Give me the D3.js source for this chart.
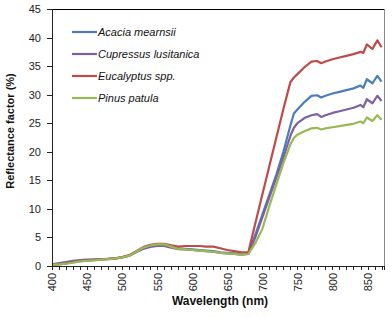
<!DOCTYPE html>
<html>
<head>
<meta charset="utf-8">
<script src="https://cdn.jsdelivr.net/npm/d3@7"></script>
<style>
  body { margin: 0; background: #fff; }
  svg { display: block; font-family: "Liberation Sans", Arial, sans-serif; }
</style>
</head>
<body>
<svg id="chart"></svg>
<script>
// wavelengths (nm) shared by all series
const wavelengths = [400, 410, 420, 430, 440, 450, 460, 470, 480, 490, 500, 510, 520, 530, 540, 550, 560, 570, 580, 590,
    600, 610, 620, 630, 640, 650, 660, 670, 680, 690, 700, 710, 720, 730, 740, 745, 750, 760, 770, 778, 784, 790,
    800, 810, 820, 830, 840, 844, 849, 857, 864, 870];

const seriesNames = ["Acacia mearnsii", "Cupressus lusitanica", "Eucalyptus spp.", "Pinus patula"];
const seriesColors = ["#4a7ebb", "#7d60a0", "#be4b48", "#98b954"];

const acacia = [0.25, 0.35, 0.5, 0.7, 0.9, 1.0, 1.05, 1.15, 1.2, 1.3, 1.5, 1.8, 2.5, 3.1, 3.5, 3.7, 3.7, 3.4, 3.1, 3.0,
    2.9, 2.8, 2.7, 2.6, 2.4, 2.3, 2.2, 2.1, 2.2, 5.5, 9.0, 12.5, 16.0, 20.0, 24.6, 26.7, 27.4, 28.7, 29.8, 29.9, 29.5, 29.8,
    30.2, 30.5, 30.8, 31.1, 31.6, 31.2, 32.7, 32.0, 33.3, 32.3];
const cupressus = [0.3, 0.5, 0.7, 0.9, 1.05, 1.1, 1.15, 1.2, 1.25, 1.35, 1.5, 1.8, 2.4, 3.0, 3.35, 3.5, 3.5, 3.2, 2.95, 2.9,
    2.8, 2.7, 2.6, 2.5, 2.3, 2.2, 2.1, 2.0, 2.1, 5.0, 8.5, 12.0, 15.5, 19.0, 22.8, 24.2, 25.0, 25.9, 26.4, 26.6, 26.1, 26.4,
    26.8, 27.1, 27.4, 27.7, 28.2, 27.8, 29.2, 28.5, 29.8, 28.9];
const eucalyptus = [0.2, 0.3, 0.45, 0.65, 0.85, 0.95, 1.05, 1.15, 1.25, 1.35, 1.55, 1.9, 2.6, 3.3, 3.7, 3.9, 3.9, 3.6, 3.4, 3.5,
    3.5, 3.5, 3.4, 3.4, 3.1, 2.8, 2.6, 2.4, 2.4, 7.5, 12.5, 17.5, 22.5, 27.5, 32.2, 33.0, 33.6, 34.8, 35.8, 35.9, 35.5, 35.8,
    36.2, 36.5, 36.8, 37.1, 37.5, 37.3, 38.8, 38.0, 39.5, 38.3];
const pinus = [0.2, 0.3, 0.4, 0.6, 0.8, 0.9, 1.0, 1.1, 1.2, 1.3, 1.5, 1.8, 2.5, 3.2, 3.6, 3.8, 3.8, 3.4, 3.0, 2.9,
    2.8, 2.7, 2.6, 2.5, 2.3, 2.2, 2.1, 2.0, 2.1, 4.0, 6.5, 10.5, 14.3, 18.0, 21.3, 22.4, 23.0, 23.6, 24.1, 24.2, 23.9, 24.1,
    24.3, 24.5, 24.7, 24.9, 25.3, 25.0, 26.0, 25.4, 26.4, 25.6];

const xTicks = [400, 450, 500, 550, 600, 650, 700, 750, 800, 850];
const yTicks = [0, 5, 10, 15, 20, 25, 30, 35, 40, 45];

const allValues = [acacia, cupressus, eucalyptus, pinus];

function main() {
    let canvasWidth = 392;
    let canvasHeight = 318;
    let svg = d3.select("#chart")
        .attr("width", canvasWidth)
        .attr("height", canvasHeight);

    const left = 52, right = 384, top = 9, bottom = 266;

    let x = d3.scaleLinear().domain([400, 873.5]).range([left, right]);
    let y = d3.scaleLinear().domain([0, 45]).range([bottom, top]);

    // plot frame
    svg.append("line").attr("x1", left).attr("x2", right).attr("y1", top).attr("y2", top)
        .attr("stroke", "#000").attr("stroke-width", 1).attr("shape-rendering", "crispEdges");
    svg.append("line").attr("x1", right).attr("x2", right).attr("y1", top).attr("y2", bottom)
        .attr("stroke", "#888").attr("stroke-width", 1).attr("shape-rendering", "crispEdges");

    // series lines
    let line = d3.line()
        .x((d, i) => x(wavelengths[i]))
        .y(d => y(d));
    allValues.forEach((vals, k) => {
        svg.append("path")
            .datum(vals)
            .attr("d", line)
            .attr("fill", "none")
            .attr("stroke", seriesColors[k])
            .attr("stroke-width", 2.2)
            .attr("stroke-linejoin", "round");
    });

    // y axis
    let yAxis = svg.append("g")
        .attr("transform", `translate(${left},0)`)
        .call(d3.axisLeft(y).tickValues(yTicks).tickSize(5).tickPadding(6));
    yAxis.selectAll("text").attr("font-size", 11).attr("fill", "#222").attr("font-family", "Liberation Sans, Arial, sans-serif");
    yAxis.selectAll("line, path").attr("stroke", "#222").attr("shape-rendering", "crispEdges");

    // x axis minor ticks
    let minor = d3.range(400, 874, 10);
    svg.append("g")
        .attr("transform", `translate(0,${bottom})`)
        .call(d3.axisBottom(x).tickValues(minor).tickSize(4).tickFormat(""))
        .selectAll("line, path").attr("stroke", "#222").attr("shape-rendering", "crispEdges");

    // x axis major labels, rotated
    let xAxis = svg.append("g")
        .attr("transform", `translate(0,${bottom})`)
        .call(d3.axisBottom(x).tickValues(xTicks).tickSize(4));
    xAxis.select("path").remove();
    xAxis.selectAll("line").attr("stroke", "#222").attr("shape-rendering", "crispEdges");
    xAxis.selectAll("text")
        .attr("font-size", 11)
        .attr("fill", "#222")
        .attr("font-family", "Liberation Sans, Arial, sans-serif")
        .attr("transform", "rotate(-90)")
        .attr("x", -7)
        .attr("y", 0)
        .attr("dy", "0.35em")
        .style("text-anchor", "end");

    // axis titles
    svg.append("text")
        .text("Wavelength (nm)")
        .attr("x", 220)
        .attr("y", 305)
        .attr("font-size", 12)
        .attr("font-weight", "bold")
        .attr("fill", "#111")
        .style("text-anchor", "middle");

    svg.append("text")
        .text("Reflectance factor (%)")
        .attr("transform", "translate(14,131) rotate(-90)")
        .attr("font-size", 11)
        .attr("font-weight", "bold")
        .attr("fill", "#111")
        .style("text-anchor", "middle");

    // legend
    let legend = svg.append("g");
    seriesNames.forEach((name, k) => {
        let ly = 32 + k * 22;
        legend.append("line")
            .attr("x1", 72).attr("x2", 97).attr("y1", ly).attr("y2", ly)
            .attr("stroke", seriesColors[k]).attr("stroke-width", 2.2);
        legend.append("text")
            .text(name)
            .attr("x", 98)
            .attr("y", ly)
            .attr("dy", "0.35em")
            .attr("font-size", 11)
            .attr("font-style", "italic")
            .attr("fill", "#111");
    });
}

main();
</script>
</body>
</html>
